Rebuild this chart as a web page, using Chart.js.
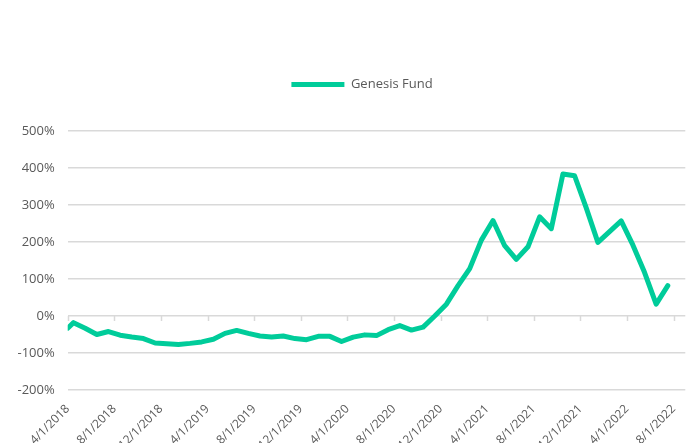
<!DOCTYPE html>
<html>
<head>
<meta charset="utf-8">
<script src="https://cdn.jsdelivr.net/npm/chart.js@4.4.0/dist/chart.umd.min.js"></script>
<style>
  html, body { margin: 0; padding: 0; background: #ffffff; }
  #wrap { width: 696px; height: 443px; position: relative; }
</style>
</head>
<body>
<div id="wrap"><canvas id="c" width="696" height="443"></canvas></div>
<script>
// ---- data ----
const seriesName = 'Genesis Fund';
const dates = [
  '2018-04-01',
  '2018-04-16','2018-05-16','2018-06-16','2018-07-16','2018-08-16','2018-09-16','2018-10-16','2018-11-16','2018-12-16',
  '2019-01-16','2019-02-16','2019-03-16','2019-04-16','2019-05-16','2019-06-16','2019-07-16','2019-08-16','2019-09-16','2019-10-16','2019-11-16','2019-12-16',
  '2020-01-16','2020-02-16','2020-03-16','2020-04-16','2020-05-16','2020-06-16','2020-07-16','2020-08-16','2020-09-16','2020-10-16','2020-11-16','2020-12-16',
  '2021-01-16','2021-02-16','2021-03-16','2021-04-16','2021-05-16','2021-06-16','2021-07-16','2021-08-16','2021-09-16','2021-10-16','2021-11-16','2021-12-16',
  '2022-01-16','2022-02-16','2022-03-16','2022-04-16','2022-05-16','2022-06-16','2022-07-16'
];
const values = [
  -33,
  -18, -33, -50, -42, -52, -57, -61, -73, -75,
  -77, -74, -70, -63, -47, -39, -47, -54, -57, -54, -61, -64,
  -55, -55, -69, -57, -51, -53, -37, -26, -38, -30, 0, 32,
  82, 128, 205, 258, 190, 153, 187, 268, 236, 384, 379, 292,
  199, 228, 257, 192, 118, 32, 82
];
const tickLabels = [
  '4/1/2018','8/1/2018','12/1/2018','4/1/2019','8/1/2019','12/1/2019','4/1/2020',
  '8/1/2020','12/1/2020','4/1/2021','8/1/2021','12/1/2021','4/1/2022','8/1/2022'
];
const yMin = -200, yMax = 500, yStep = 100;

// month offset from 4/1/2018 (axis origin)
function monthOffset(d) {
  const [y, m, day] = d.split('-').map(Number);
  return (y - 2018) * 12 + (m - 4) + (day - 1) / 30;
}
const points = dates.map((d, i) => ({ x: monthOffset(d), y: values[i] }));

const FONT = "'Open Sans', 'DejaVu Sans', sans-serif";
const GRAY = '#595959';
const GRID = '#d9d9d9';
const LINE = '#00CC9A';

const layoutPlugin = {
  id: 'layoutFix',
  beforeLayout(chart) {
    const lg = chart.legend;
    if (lg && !lg._patched) {
      const origFit = lg.fit;
      lg.fit = function () { origFit.call(this); this.height = 63; };
      const origDraw = lg.draw;
      lg.draw = function () {
        const l = this.left;
        this.left = l + 38;
        origDraw.apply(this, arguments);
        this.left = l;
      };
      lg._patched = true;
    }
  },
  beforeDatasetsDraw(chart) {
    const xs = chart.scales.x, ys = chart.scales.y;
    const ctx = chart.ctx;
    const y0 = ys.getPixelForValue(0);
    ctx.save();
    ctx.strokeStyle = GRID;
    ctx.lineWidth = 1.5;
    xs.ticks.forEach(t => {
      const px = Math.round(xs.getPixelForValue(t.value)) + 0.5;
      ctx.beginPath();
      ctx.moveTo(px, y0);
      ctx.lineTo(px, y0 + 5);
      ctx.stroke();
    });
    ctx.restore();
  }
};

new Chart(document.getElementById('c'), {
  type: 'line',
  data: {
    datasets: [{
      label: seriesName,
      data: points,
      borderColor: LINE,
      backgroundColor: LINE,
      borderWidth: 5,
      pointRadius: 0,
      tension: 0,
      borderJoinStyle: 'round',
      borderCapStyle: 'round'
    }]
  },
  options: {
    responsive: false,
    animation: false,
    layout: { padding: { top: 68, left: 0, right: 10, bottom: 0 } },
    plugins: {
      legend: {
        position: 'top',
        labels: {
          color: GRAY,
          font: { family: FONT, size: 13 },
          boxWidth: 53,
          boxHeight: 5,
          padding: 10,
          generateLabels(chart) {
            return chart.data.datasets.map((ds, i) => ({
              text: ds.label,
              fillStyle: ds.borderColor,
              strokeStyle: ds.borderColor,
              lineWidth: 0,
              fontColor: GRAY,
              datasetIndex: i
            }));
          }
        }
      },
      tooltip: { enabled: false }
    },
    scales: {
      x: {
        type: 'linear',
        min: 0,
        max: 53,
        grid: { display: false, drawTicks: false },
        border: { display: false },
        afterFit(scale) { scale.height = 53; },
        ticks: {
          stepSize: 4,
          includeBounds: false,
          autoSkip: false,
          maxRotation: 45,
          minRotation: 45,
          padding: 12,
          color: GRAY,
          font: { family: FONT, size: 12 },
          callback(value) {
            const i = Math.round(value / 4);
            return tickLabels[i] !== undefined ? tickLabels[i] : '';
          }
        }
      },
      y: {
        min: yMin,
        max: yMax,
        afterFit(scale) { scale.width = 67.7; },
        grid: { color: GRID, lineWidth: 1.5, drawTicks: false },
        border: { display: false },
        ticks: {
          stepSize: yStep,
          padding: 13,
          color: GRAY,
          font: { family: FONT, size: 13 },
          callback(v) { return v + '%'; }
        }
      }
    }
  },
  plugins: [layoutPlugin]
});
</script>
</body>
</html>
